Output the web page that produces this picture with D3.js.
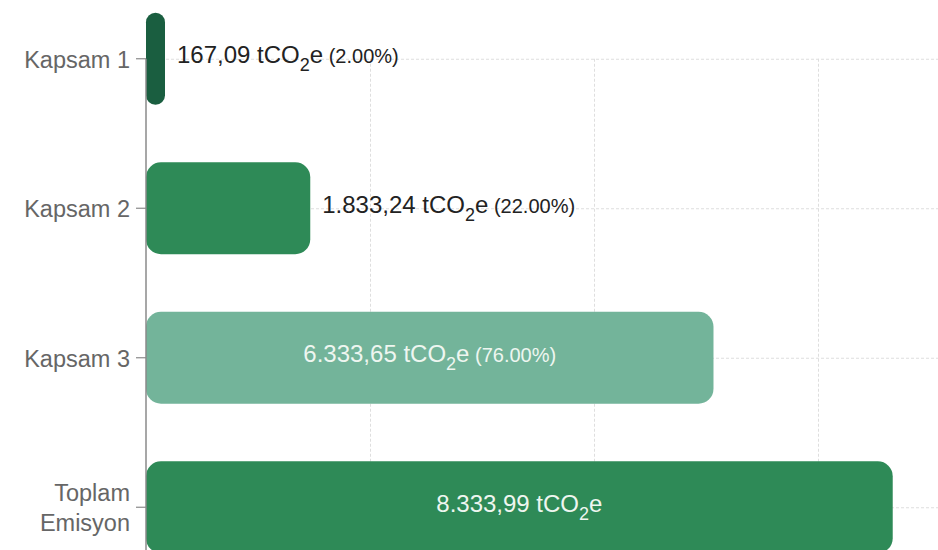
<!DOCTYPE html>
<html>
<head>
<meta charset="utf-8">
<script src="https://cdn.jsdelivr.net/npm/d3@7"></script>
<style>
  body { margin: 0; background: #fff; }
  svg { display: block; font-family: "Liberation Sans", Arial, sans-serif; }
</style>
</head>
<body>
<div id="chart"></div>
<script>
const categories = ["Kapsam 1", "Kapsam 2", "Kapsam 3", "Toplam Emisyon"];
const values = [167.09, 1833.24, 6333.65, 8333.99];
const shares = [0.02, 0.22, 0.76, null];
const gridTicks = [0, 2500, 5000, 7500, 10000];

const width = 938;
const height = 550;
const barColors = ["#1a5e40", "#2e8a57", "#73b49a", "#2e8a57"];
const axisColor = "#8a8a8a";
const gridColor = "#dedede";

const trLocale = d3.formatLocale({ decimal: ",", thousands: ".", grouping: [3], currency: ["", ""] });
const fmtValue = trLocale.format(",.2f");
const fmtShare = d3.format(".2%");

const x = d3.scaleLinear().domain([0, 10000]).range([146, 1042]);
const y = d3.scaleBand()
  .domain(categories)
  .range([-16, 582])
  .paddingInner(0.385)
  .paddingOuter(0.1925);
const color = d3.scaleOrdinal(categories, barColors);
const mid = (d) => y(d) + y.bandwidth() / 2;

const svg = d3.select("#chart")
  .append("svg")
  .attr("width", width)
  .attr("height", height)
  .attr("viewBox", [0, 0, width, height]);

const gridTop = mid(categories[0]);

// grid
const grid = svg.append("g")
  .attr("stroke", gridColor)
  .attr("stroke-dasharray", "3,2")
  .attr("stroke-width", 1);

grid.selectAll("line.v")
  .data(gridTicks.filter((t) => t > 0))
  .join("line")
  .attr("class", "v")
  .attr("x1", (d) => x(d) + 0.5)
  .attr("x2", (d) => x(d) + 0.5)
  .attr("y1", gridTop)
  .attr("y2", height);

grid.selectAll("line.h")
  .data(categories)
  .join("line")
  .attr("class", "h")
  .attr("x1", x(0))
  .attr("x2", width)
  .attr("y1", (d) => mid(d) + 0.5)
  .attr("y2", (d) => mid(d) + 0.5);

// bars
const rows = categories.map((c, i) => ({ cat: c, value: values[i], share: shares[i] }));
const barW = (d) => Math.max(x(d.value) - x(0), 19);

svg.append("g")
  .selectAll("rect")
  .data(rows)
  .join("rect")
  .attr("x", x(0))
  .attr("y", (d) => y(d.cat))
  .attr("width", barW)
  .attr("height", y.bandwidth())
  .attr("rx", (d) => Math.min(15, barW(d) / 2))
  .attr("fill", (d) => color(d.cat));

// y axis
svg.append("line")
  .attr("x1", x(0))
  .attr("x2", x(0))
  .attr("y1", gridTop)
  .attr("y2", height)
  .attr("stroke", axisColor)
  .attr("stroke-width", 1.5);

const yAxis = svg.append("g")
  .attr("transform", `translate(${x(0)},0)`)
  .call(d3.axisLeft(y).tickSize(10).tickPadding(6).tickSizeOuter(0));
yAxis.select(".domain").remove();
yAxis.selectAll(".tick line").attr("stroke", axisColor).attr("stroke-width", 1.2);
yAxis.selectAll(".tick text")
  .attr("fill", "#666")
  .attr("font-size", 23.5)
  .attr("font-family", "'Liberation Sans', Arial, sans-serif")
  .each(function (d) {
    const words = d.split(" ");
    const t = d3.select(this).text(null).attr("dy", null);
    if (d === "Toplam Emisyon") {
      words.forEach((w, i) => {
        t.append("tspan").attr("x", -16).attr("dy", i === 0 ? "-0.25em" : "1.25em").text(w);
      });
    } else {
      t.append("tspan").attr("x", -16).attr("dy", "0.38em").text(d);
    }
  });

// value labels
const labels = svg.append("g")
  .selectAll("text")
  .data(rows)
  .join("text")
  .attr("y", (d) => mid(d.cat))
  .attr("font-size", 24);

labels.each(function (d) {
  const t = d3.select(this);
  t.append("tspan").attr("dy", "0.18em").text(`${fmtValue(d.value)} tCO`);
  t.append("tspan").attr("font-size", 18).attr("dy", 8).text("2");
  t.append("tspan").attr("dy", -8).text("e");
  if (d.share !== null) {
    t.append("tspan").attr("font-size", 20).text(` (${fmtShare(d.share)})`);
  }
  const w = this.getComputedTextLength();
  const bw = barW(d);
  if (w + 30 < bw) {
    t.attr("x", x(0) + bw / 2).attr("text-anchor", "middle").attr("fill", "#eef6f0");
  } else {
    t.attr("x", x(0) + bw + 12).attr("text-anchor", "start").attr("fill", "#222");
  }
});
</script>
</body>
</html>
